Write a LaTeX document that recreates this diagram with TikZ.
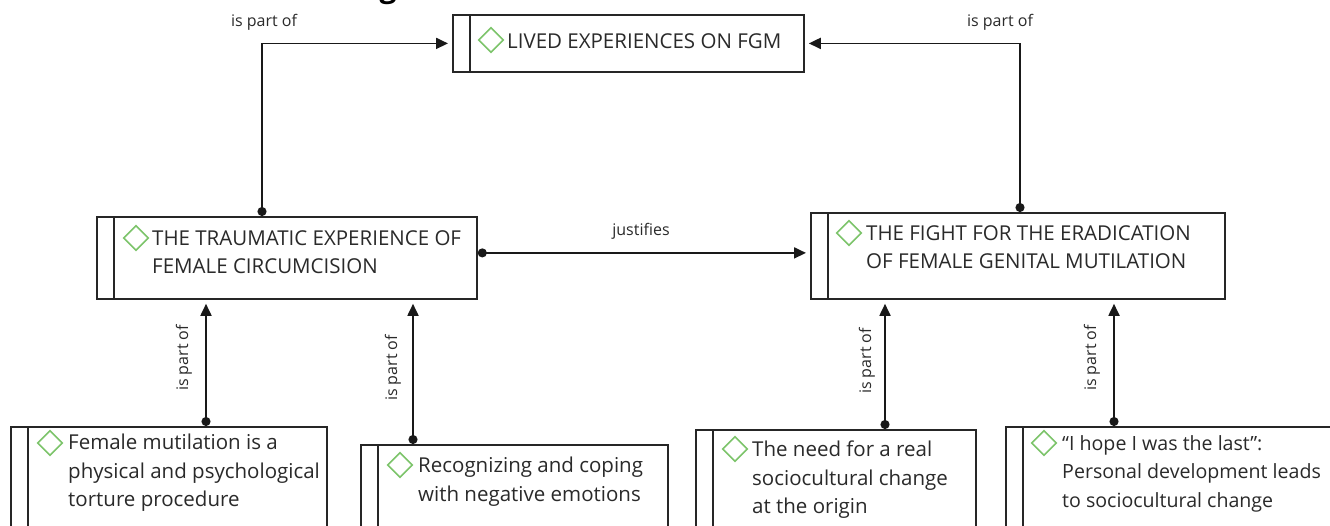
\documentclass[tikz,border=0pt]{standalone}
\usepackage{fontspec}
\setmainfont{Open Sans}
\usetikzlibrary{arrows.meta,shapes.geometric,calc}
\definecolor{ink}{HTML}{2A2A2A}
\definecolor{dia}{HTML}{7CC46A}
\tikzset{
  box/.style={draw=black!85, line width=1.8pt, fill=white, inner sep=0pt, anchor=north west},
  divline/.style={draw=black!85, line width=1.8pt},
  txt/.style={inner sep=0pt, anchor=north west, align=left, text=ink, font=\fontsize{20.5}{28.5}\selectfont},
  smalltxt/.style={txt, font=\fontsize{19.6}{28.5}\selectfont},
  dmark/.style={diamond, draw=dia, line width=1.6pt, minimum width=25pt, minimum height=25pt, inner sep=0pt},
  conn/.style={line width=1.8pt, draw=black!90, {Circle[length=9pt]}-{Triangle[length=12pt,width=11pt]}, shorten >=4pt},
  lbl/.style={inner sep=0pt, text=ink, font=\fontsize{16}{18}\selectfont}
}
\begin{document}
\begin{tikzpicture}[x=1pt,y=-1pt]
\useasboundingbox (0,0) rectangle (1330,525);
\fill[white] (0,0) rectangle (1330,525);
\begin{scope}
\clip (0,0) rectangle (1330,525);
\node[inner sep=0pt, anchor=base, font=\fontsize{30}{30}\selectfont\bfseries, text=black] (frag) at (388,-3) {g};

% boxes
\node[box, minimum width=351pt, minimum height=57pt] (T) at (452,14) {};
\node[box, minimum width=380pt, minimum height=82pt] (L) at (96,216) {};
\node[box, minimum width=414pt, minimum height=86pt] (R) at (810,212) {};
\node[box, minimum width=316pt, minimum height=120pt] (B1) at (10,426) {};
\node[box, minimum width=307pt, minimum height=100pt] (B2) at (360,444) {};
\node[box, minimum width=280pt, minimum height=120pt] (B3) at (695,429) {};
\node[box, minimum width=340pt, minimum height=120pt] (B4) at (1005,426) {};

% dividers
\foreach \b in {T,L,R,B1,B2,B3,B4}
  \draw[divline] ([xshift=18pt]\b.north west) -- ([xshift=18pt]\b.south west);
\end{scope}

% diamonds
\node[dmark] (dT) at (491,40) {};
\node[dmark] (dL) at (136,238) {};
\node[dmark] (dR) at (849,233) {};
\node[dmark] (d1) at (50,443) {};
\node[dmark] (d2) at (400,465) {};
\node[dmark] (d3) at (735,449) {};
\node[dmark] (d4) at (1044,443) {};

% texts
\node[txt] (tT) at (507,33) {LIVED EXPERIENCES ON FGM};
\node[txt] (tL) at (152,230) {THE TRAUMATIC EXPERIENCE OF\\FEMALE CIRCUMCISION};
\node[txt] (tR) at (866,225) {THE FIGHT FOR THE ERADICATION\\OF FEMALE GENITAL MUTILATION};
\node[txt] (t1) at (68,434) {Female mutilation is a\\physical and psychological\\torture procedure};
\node[txt] (t2) at (418,457) {Recognizing and coping\\with negative emotions};
\node[txt] (t3) at (752,441) {The need for a real\\sociocultural change\\at the origin};
\node[smalltxt] (t4) at (1062,435) {“I hope I was the last”:\\Personal development leads\\to sociocultural change};

% connectors
\draw[conn] ([xshift=166pt]L.north west) |- (T.west);
\draw[conn] ([xshift=210pt]R.north west) |- (T.east);
\draw[conn] ([yshift=5pt]L.east) -- ([yshift=5pt]L.east -| R.west);
\draw[conn] ([xshift=196pt]B1.north west) -- ([xshift=196pt]B1.north west |- L.south);
\draw[conn] ([xshift=53pt]B2.north west) -- ([xshift=53pt]B2.north west |- L.south);
\draw[conn] ([xshift=190pt]B3.north west) -- ([xshift=190pt]B3.north west |- R.south);
\draw[conn] ([xshift=109pt]B4.north west) -- ([xshift=109pt]B4.north west |- R.south);

% labels
\node[lbl] (l1) at (264,22) {is part of};
\node[lbl] (l2) at (1000,22) {is part of};
\node[lbl] (l3) at (641,231) {justifies};
\node[lbl, rotate=90] (l4) at (184,358) {is part of};
\node[lbl, rotate=90] (l5) at (393,368) {is part of};
\node[lbl, rotate=90] (l6) at (867,361) {is part of};
\node[lbl, rotate=90] (l7) at (1092,358) {is part of};
\end{tikzpicture}
\end{document}
